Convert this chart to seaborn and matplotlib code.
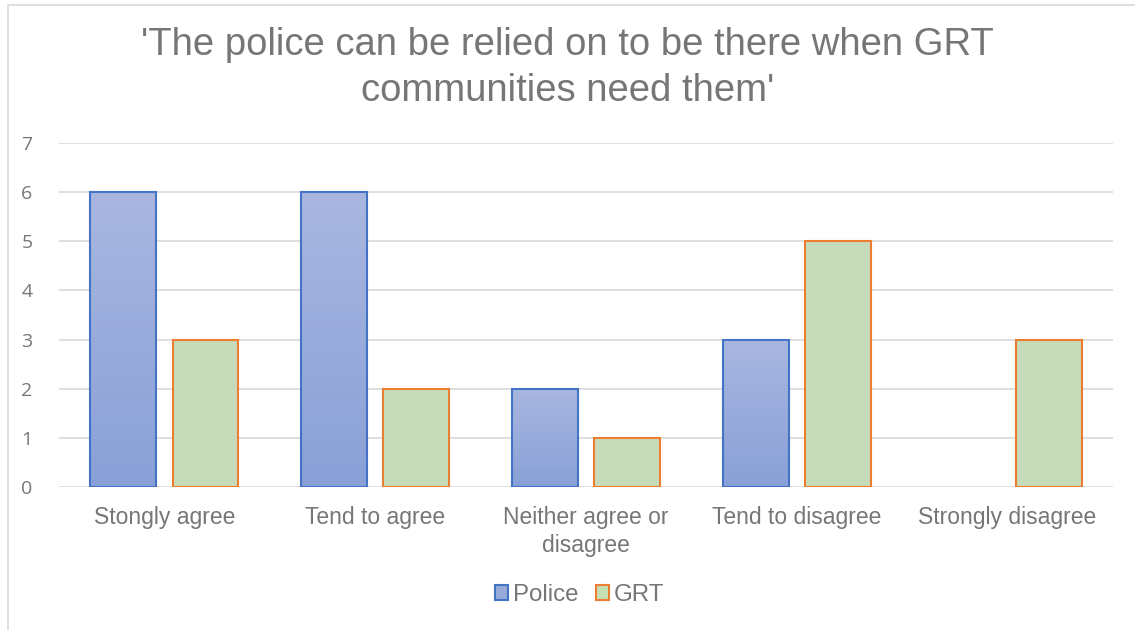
import numpy as np
import pandas as pd
import matplotlib
matplotlib.use('Agg')
import matplotlib.pyplot as plt
from matplotlib.lines import Line2D
from matplotlib.patches import Patch
import seaborn as sns

categories = ['Stongly agree', 'Tend to agree', 'Neither agree or\ndisagree',
              'Tend to disagree', 'Strongly disagree']
police = [6, 6, 2, 3, 0]
grt = [3, 2, 1, 5, 3]
series = ['Police', 'GRT']
title = "'The police can be relied on to be there when GRT\ncommunities need them'"

df = pd.DataFrame({
    'category': categories * 2,
    'value': police + grt,
    'series': ['Police'] * len(categories) + ['GRT'] * len(categories),
})

sns.set_style('white')
plt.rcParams['font.family'] = ['Liberation Sans', 'DejaVu Sans']

text_grey = '#767676'
fills = {'Police': '#98ABDB', 'GRT': '#C5E0B4'}
edges = {'Police': '#4472C4', 'GRT': '#ED7D31'}

fig = plt.figure(figsize=(11.35, 6.3), dpi=100)
ax = fig.add_axes([59 / 1135, 1 - 487 / 630, (1113 - 59) / 1135, (487 - 143) / 630])

sns.barplot(data=df, x='category', y='value', hue='series', order=categories,
            hue_order=series, palette=fills, width=0.78, gap=0.2,
            linewidth=1.5, ax=ax, legend=False)

# edges per series, gradient on police bars
n = len(categories)
top_c = np.array([169, 183, 224]) / 255
bot_c = np.array([137, 160, 215]) / 255
grad = np.linspace(0, 1, 256)[:, None]
img = top_c[None, None, :] * (1 - grad[..., None]) + bot_c[None, None, :] * grad[..., None]
for i, p in enumerate(ax.patches[:2 * n]):
    s = series[i // n]
    p.set_edgecolor(edges[s])
    p.set_zorder(3)
    if p.get_height() == 0:
        p.set_visible(False)
        continue
    if s == 'Police':
        x0, y0 = p.get_x(), p.get_y()
        w, h = p.get_width(), p.get_height()
        p.set_facecolor('none')
        ax.imshow(img, extent=[x0, x0 + w, y0, y0 + h], aspect='auto', zorder=2.5)

ax.set_xlim(-0.5, n - 0.5)
ax.set_ylim(0, 7)
ax.set_yticks(range(0, 8))
ax.yaxis.grid(True, color='#D9D9D9', linewidth=1.2)
ax.set_axisbelow(True)
sns.despine(ax=ax, left=True, bottom=True)
ax.tick_params(axis='both', length=0, colors=text_grey)
ax.tick_params(axis='x', labelsize=16.5, pad=14)
ax.tick_params(axis='y', pad=19, labelsize=14)
for lab in ax.get_yticklabels():
    lab.set_fontfamily(['Open Sans', 'DejaVu Sans'])
for lab in ax.get_xticklabels():
    lab.set_linespacing(1.25)
ax.set_xlabel('')
ax.set_ylabel('')

fig.text(0.5, 1 - 68 / 630, title, ha='center', va='center', fontsize=27.5,
         color=text_grey, linespacing=1.38)

handles = [Patch(facecolor=fills[s], edgecolor=edges[s], linewidth=1.5, label=s) for s in series]
fig.legend(handles=handles, loc='center', bbox_to_anchor=(579.5 / 1135, 1 - 595 / 630), ncol=2,
           frameon=False, fontsize=17.3, labelcolor=text_grey, handlelength=0.55,
           handleheight=0.55, handletextpad=0.17, columnspacing=0.75)

fig.add_artist(Line2D([7.5 / 1135, 7.5 / 1135], [0, 1 - 4.5 / 630], color='#D9D9D9', linewidth=1.2))
fig.add_artist(Line2D([7.5 / 1135, 1], [1 - 4.5 / 630, 1 - 4.5 / 630], color='#D9D9D9', linewidth=1.2))

fig.savefig('out.png', dpi=100)
